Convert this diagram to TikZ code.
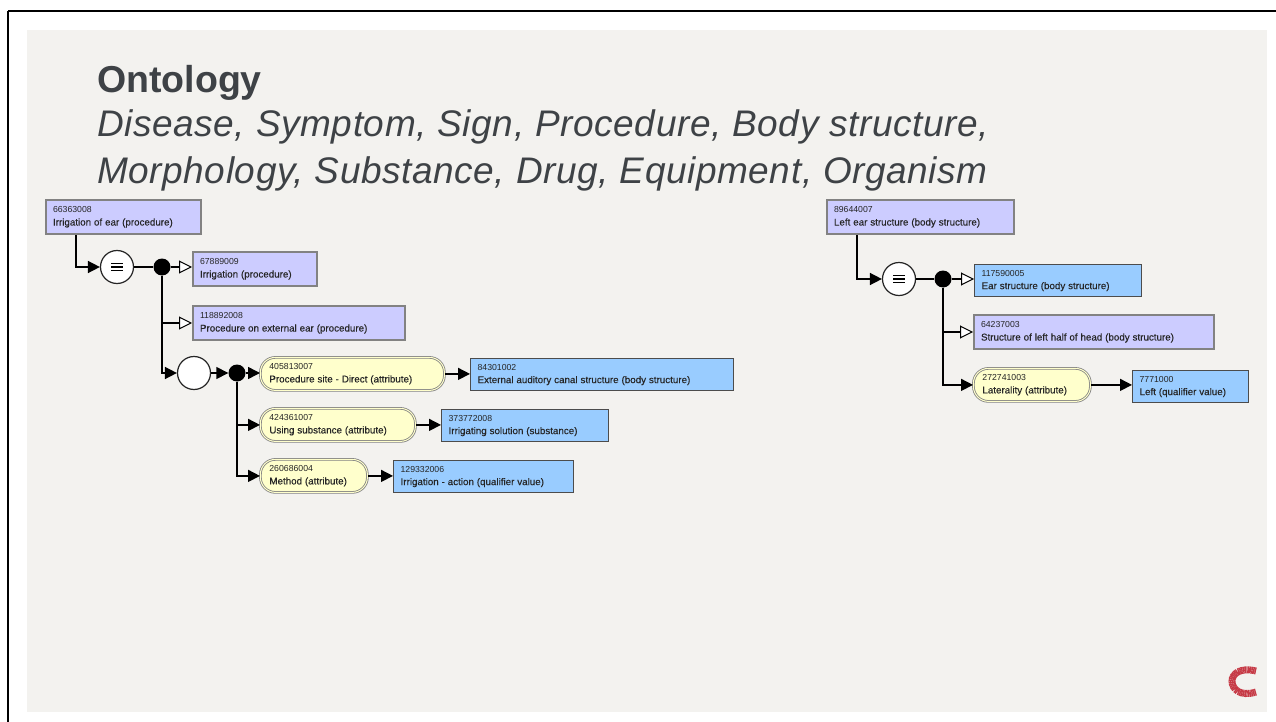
\documentclass[tikz,border=0pt]{standalone}
\usepackage{fontspec}
\setmainfont{Liberation Sans}
\usetikzlibrary{arrows.meta}
\definecolor{panel}{RGB}{243,242,239}
\definecolor{ink}{RGB}{62,66,70}
\definecolor{defined}{RGB}{204,204,255}
\definecolor{primitive}{RGB}{153,204,255}
\definecolor{attr}{RGB}{255,255,204}
\definecolor{rim}{RGB}{130,130,130}
\definecolor{logo}{RGB}{198,58,70}
\tikzset{
  x=1pt, y=-1pt,
  concept/.style={anchor=north west, inner xsep=7pt, inner ysep=0pt, font=\fontsize{8.7}{13}\selectfont, align=left, text=black!85},
  defbox/.style={concept, fill=defined, draw=rim, line width=2pt, minimum height=34pt},
  primbox/.style={concept, fill=primitive, draw=black!70, line width=1.2pt, minimum height=32pt},
  attrbox/.style={concept, inner xsep=9pt, fill=attr, draw=rim, double=attr, line width=.8pt, double distance=1pt, rounded corners=15pt, minimum height=33pt},
  oper/.style={circle, draw=black!85, fill=white, line width=1.2pt, minimum size=33pt, inner sep=0pt},
  joint/.style={circle, fill=black, minimum size=17pt, inner sep=0pt},
  isa/.style={line width=1.5pt, -{Triangle[open, fill=white, length=13pt, width=13pt, line width=1pt]}},
  rel/.style={line width=1.5pt, -{Triangle[length=12pt, width=12pt]}},
  link/.style={line width=1.2pt}
}
\newcommand{\equivmark}[1]{\draw[line width=1.3pt] (#1)+(-6,-3.5) -- +(6,-3.5) (#1)+(-6,0) -- +(6,0) (#1)+(-6,3.5) -- +(6,3.5);}
\newcommand{\concepttext}[2]{#1\\\fontsize{9.8}{13}\selectfont\addfontfeatures{FakeBold=0.3} #2}
\begin{document}
\begin{tikzpicture}
\useasboundingbox (0,0) rectangle (1276,722);
\fill[white] (0,0) rectangle (1276,722);
\draw[line width=2.5pt] (8,11) -- (1276,11) (8,11) -- (8,722);
\fill[panel] (27,30) rectangle (1267,712);

\node[anchor=base west, inner sep=0pt, text=ink, font=\bfseries\fontsize{37.5}{40}\selectfont] (title) at (97,93) {Ontology};
\node[anchor=base west, inner sep=0pt, text=ink, font=\itshape\fontsize{37}{40}\selectfont\addfontfeatures{LetterSpace=1.6}] (line1) at (97,137) {Disease, Symptom, Sign, Procedure, Body structure,};
\node[anchor=base west, inner sep=0pt, text=ink, font=\itshape\fontsize{37}{40}\selectfont\addfontfeatures{LetterSpace=1.6}] (line2) at (97,183) {Morphology, Substance, Drug, Equipment, Organism};

% left tree
\node[defbox, text width=141pt] (ear) at (45,199) {\concepttext{66363008}{Irrigation of ear (procedure)}};
\node[oper] (eq1) at (117,267) {};
\node[joint] (dot1) at (162,267) {};
\node[defbox, text width=110pt] (irr) at (192,251) {\concepttext{67889009}{Irrigation (procedure)}};
\node[defbox, text width=198pt] (ext) at (192,305) {\concepttext{118892008}{Procedure on external ear (procedure)}};
\node[oper] (grp) at (194,373) {};
\node[joint] (dot2) at (237,373) {};
\node[attrbox, text width=166pt] (site) at (260,357) {\concepttext{405813007}{Procedure site - Direct (attribute)}};
\node[primbox, text width=249pt] (canal) at (470,358) {\concepttext{84301002}{External auditory canal structure (body structure)}};
\node[attrbox, text width=137pt] (subs) at (260,408) {\concepttext{424361007}{Using substance (attribute)}};
\node[primbox, text width=153pt] (sol) at (441,409) {\concepttext{373772008}{Irrigating solution (substance)}};
\node[attrbox, text width=89pt] (meth) at (260,459) {\concepttext{260686004}{Method (attribute)}};
\node[primbox, text width=166pt] (act) at (393,460) {\concepttext{129332006}{Irrigation - action (qualifier value)}};

\draw[rel] ([xshift=31pt]ear.south west) |- (eq1);
\equivmark{eq1}
\draw[link] (eq1) -- (dot1);
\draw[isa] (dot1) -- (irr.west |- dot1);
\draw[isa] (dot1) |- (ext.west);
\draw[rel] (dot1) |- (grp);
\draw[rel] (grp) -- (dot2);
\draw[rel] (dot2) -- (site.west |- dot2);
\draw[rel] (dot2) |- (subs);
\draw[rel] (dot2) |- (meth);
\draw[rel] (site.east) -- (site.east -| canal.west);
\draw[rel] (subs.east) -- (subs.east -| sol.west);
\draw[rel] (meth.east) -- (meth.east -| act.west);

% right tree
\node[defbox, text width=173pt] (leftear) at (826,199) {\concepttext{89644007}{Left ear structure (body structure)}};
\node[oper] (eq2) at (899,279) {};
\node[joint] (dot3) at (943,279) {};
\node[primbox, text width=153pt] (earst) at (974,264) {\concepttext{117590005}{Ear structure (body structure)}};
\node[defbox, text width=226pt] (head) at (973,314) {\concepttext{64237003}{Structure of left half of head (body structure)}};
\node[attrbox, text width=99pt] (later) at (973,368) {\concepttext{272741003}{Laterality (attribute)}};
\node[primbox, text width=102pt] (leftq) at (1132,370) {\concepttext{7771000}{Left (qualifier value)}};

\draw[rel] ([xshift=31pt]leftear.south west) |- (eq2);
\equivmark{eq2}
\draw[link] (eq2) -- (dot3);
\draw[isa] (dot3) -- (earst.west |- dot3);
\draw[isa] (dot3) |- (head.west);
\draw[rel] (dot3) |- (later);
\draw[rel] (later.east) -- (later.east -| leftq.west);

% logo
\draw[logo, line width=7pt, dash pattern=on 1.3pt off .4pt] (1256,671) .. controls (1240,667) and (1232,674) .. (1232,681) .. controls (1232,689) and (1240,697) .. (1256,692);
\end{tikzpicture}
\end{document}
